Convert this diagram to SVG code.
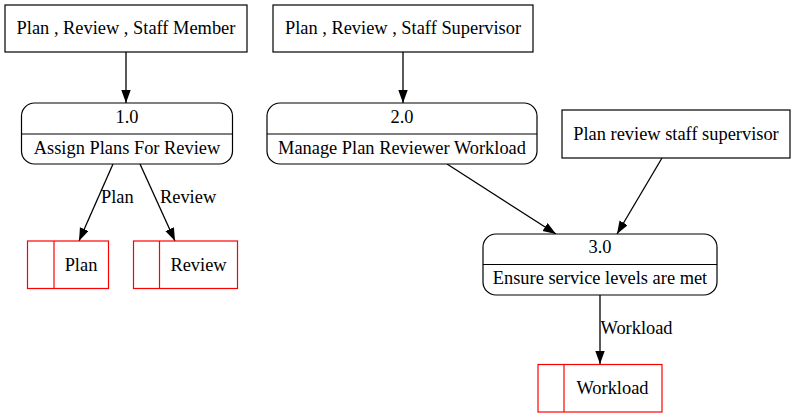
<svg xmlns="http://www.w3.org/2000/svg" width="795" height="419" viewBox="0 0 795 419">
<style>
text{font-family:"Liberation Serif","Times New Roman",serif;font-size:18.4px;fill:#000}
.ent{fill:#fff;stroke:#000;stroke-width:1.2}
.proc{fill:#fff;stroke:#000;stroke-width:1.2}
.div{stroke:#000;stroke-width:1.2}
.store{fill:#fff;stroke:#ff0000;stroke-width:1.2}
.edge{stroke:#000;stroke-width:1.3;fill:none;marker-end:url(#ah)}
.mid{text-anchor:middle}
</style>
<defs>
<marker id="ah" markerUnits="userSpaceOnUse" markerWidth="14" markerHeight="10" refX="13" refY="4.7" orient="auto">
<path d="M0,0 L13,4.7 L0,9.4 z" fill="#000"/>
</marker>
</defs>
<rect width="795" height="419" fill="#fff"/>
<g id="connectors">
<line class="edge" x1="126" y1="52" x2="126" y2="103"/>
<line class="edge" x1="403" y1="52" x2="403" y2="103"/>
<line class="edge" x1="113" y1="164" x2="79" y2="241"/>
<text x="101" y="203">Plan</text>
<line class="edge" x1="140" y1="164" x2="175" y2="241"/>
<text x="160" y="203">Review</text>
<line class="edge" x1="447" y1="164" x2="556" y2="234"/>
<line class="edge" x1="662" y1="158" x2="617" y2="234"/>
<line class="edge" x1="600" y1="295" x2="600" y2="364"/>
<text x="600.5" y="334">Workload</text>
</g>
<g id="n_ext1">
<rect class="ent" x="5" y="5" width="242" height="47"/>
<text class="mid" x="126" y="34">Plan , Review , Staff Member</text>
</g>
<g id="n_ext2">
<rect class="ent" x="273" y="5" width="260" height="47"/>
<text class="mid" x="403" y="34">Plan , Review , Staff Supervisor</text>
</g>
<g id="n_ext3">
<rect class="ent" x="562" y="110" width="228" height="48"/>
<text class="mid" x="676" y="140">Plan review staff supervisor</text>
</g>
<g id="n_p1">
<rect class="proc" x="21.5" y="103" width="211" height="61" rx="13" ry="13"/>
<line class="div" x1="21.5" y1="134" x2="232.5" y2="134"/>
<text class="mid" x="127" y="123">1.0</text>
<text class="mid" x="127" y="154">Assign Plans For Review</text>
</g>
<g id="n_p2">
<rect class="proc" x="267" y="103" width="270" height="61" rx="13" ry="13"/>
<line class="div" x1="267" y1="134" x2="537" y2="134"/>
<text class="mid" x="402" y="123">2.0</text>
<text class="mid" x="402" y="154">Manage Plan Reviewer Workload</text>
</g>
<g id="n_p3">
<rect class="proc" x="483" y="234" width="234" height="61" rx="13" ry="13"/>
<line class="div" x1="483" y1="264.5" x2="717" y2="264.5"/>
<text class="mid" x="600" y="253">3.0</text>
<text class="mid" x="600" y="284">Ensure service levels are met</text>
</g>
<g id="n_s_plan">
<rect class="store" x="27.5" y="241" width="81" height="47.5"/>
<line class="store" x1="54" y1="241" x2="54" y2="288.5"/>
<text class="mid" x="81" y="270.5">Plan</text>
</g>
<g id="n_s_review">
<rect class="store" x="133.5" y="241" width="104" height="47.5"/>
<line class="store" x1="159.5" y1="241" x2="159.5" y2="288.5"/>
<text class="mid" x="198.5" y="270.5">Review</text>
</g>
<g id="n_s_workload">
<rect class="store" x="538" y="364.5" width="124" height="47.5"/>
<line class="store" x1="564" y1="364.5" x2="564" y2="412"/>
<text class="mid" x="612.5" y="393.5">Workload</text>
</g>
</svg>
